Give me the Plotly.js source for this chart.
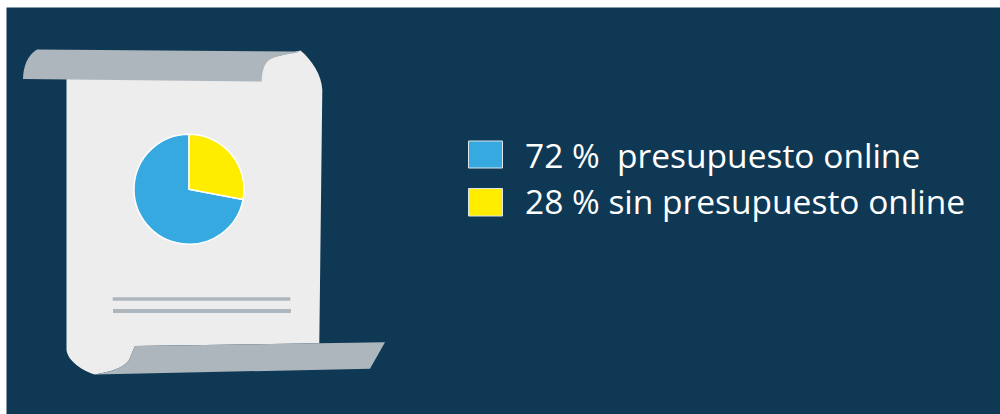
<!DOCTYPE html>
<html>
<head>
<meta charset="utf-8">
<script src="https://cdn.plot.ly/plotly-3.0.0.min.js"></script>
<style>html,body{margin:0;padding:0;background:#fff;overflow:hidden}#chart{width:1000px;height:414px}</style>
</head>
<body>
<div id="chart"></div>
<script>
const categories = ["presupuesto online", "sin presupuesto online"];
const values = [72, 28];
const sliceColors = ["#36a9e1", "#ffed00"];
const legendLabels = ["72 %\u00a0\u00a0presupuesto online", "28 % sin presupuesto online"];

const W = 1000, H = 414;
const NAVY = "#0f3854", GREY = "#aeb6bd", PAGE = "#ededed";
const px = (x) => (x / W).toFixed(5);
const py = (y) => (1 - y / H).toFixed(5);
const P = (x, y) => px(x) + "," + py(y);
const path = (d) => d.replace(/(-?[\d.]+),(-?[\d.]+)/g, (_, a, b) => P(+a, +b));
const deco = (d, fill, lineColor, lineWidth) => ({
  type: "path", xref: "paper", yref: "paper", layer: "below",
  path: path(d), fillcolor: fill,
  line: {color: lineColor || fill, width: lineWidth === undefined ? 0 : lineWidth}
});
const box = (x0, y0, x1, y1, fill, lineColor, lineWidth) => ({
  type: "rect", xref: "paper", yref: "paper", layer: "below",
  x0: +px(x0), x1: +px(x1), y0: +py(y1), y1: +py(y0), fillcolor: fill,
  line: {color: lineColor || fill, width: lineWidth || 0}
});

const shapes = [
  box(6.5, 7.5, 1000, 414, NAVY),
  // sheet
  deco("M 66.5,78 L 66.5,350 C 68,362 84,371 94.5,374.5 C 110,372 124,368 129,360 L 135,346 L 319.3,343.3 L 322.3,90 C 322,76 312,60 300.5,50.5 L 262,60 Z", PAGE),
  // top roll
  deco("M 37,49.5 L 300.5,51.5 C 290,55 276,54.5 268,61 C 263,66 262,74 261.7,81.5 L 23,79 C 23.5,66 27,56 37,49.5 Z", GREY),
  // bottom roll
  deco("M 135,346 L 385,342.3 L 370,368.7 L 94.5,374.5 C 110,372 124,368 129,360 Z", GREY),
  // text lines on the sheet
  box(112.7, 297.3, 290.3, 300.7, GREY),
  box(113, 309, 291, 313, GREY),
  // legend swatches
  box(468.5, 141, 502.5, 168, sliceColors[0], "#dfe6ea", 1),
  box(468.5, 188.5, 502.5, 216, sliceColors[1], "#dfe6ea", 1)
];

const legendY = [155, 201];
const annotations = legendLabels.map((t, i) => ({
  text: t, xref: "paper", yref: "paper", x: 524 / W, y: 1 - legendY[i] / H,
  xanchor: "left", yanchor: "middle", showarrow: false, align: "left",
  font: {family: "'Open Sans', sans-serif", size: 33.5, color: "#ffffff"},
  borderpad: 0
}));

const trace = {
  type: "pie", labels: categories, values: values, sort: false,
  direction: "counterclockwise", rotation: 100.8, textinfo: "none", hoverinfo: "label+percent",
  marker: {colors: sliceColors, line: {color: "#ffffff", width: 1.5}},
  domain: {x: [134 / W, 244 / W], y: [1 - 244.5 / H, 1 - 134 / H]},
  showlegend: false
};

Plotly.newPlot("chart", [trace], {
  width: W, height: H, margin: {l: 0, r: 0, t: 0, b: 0},
  paper_bgcolor: "#ffffff", showlegend: false, shapes: shapes, annotations: annotations
}, {displayModeBar: false, staticPlot: true});
</script>
</body>
</html>
